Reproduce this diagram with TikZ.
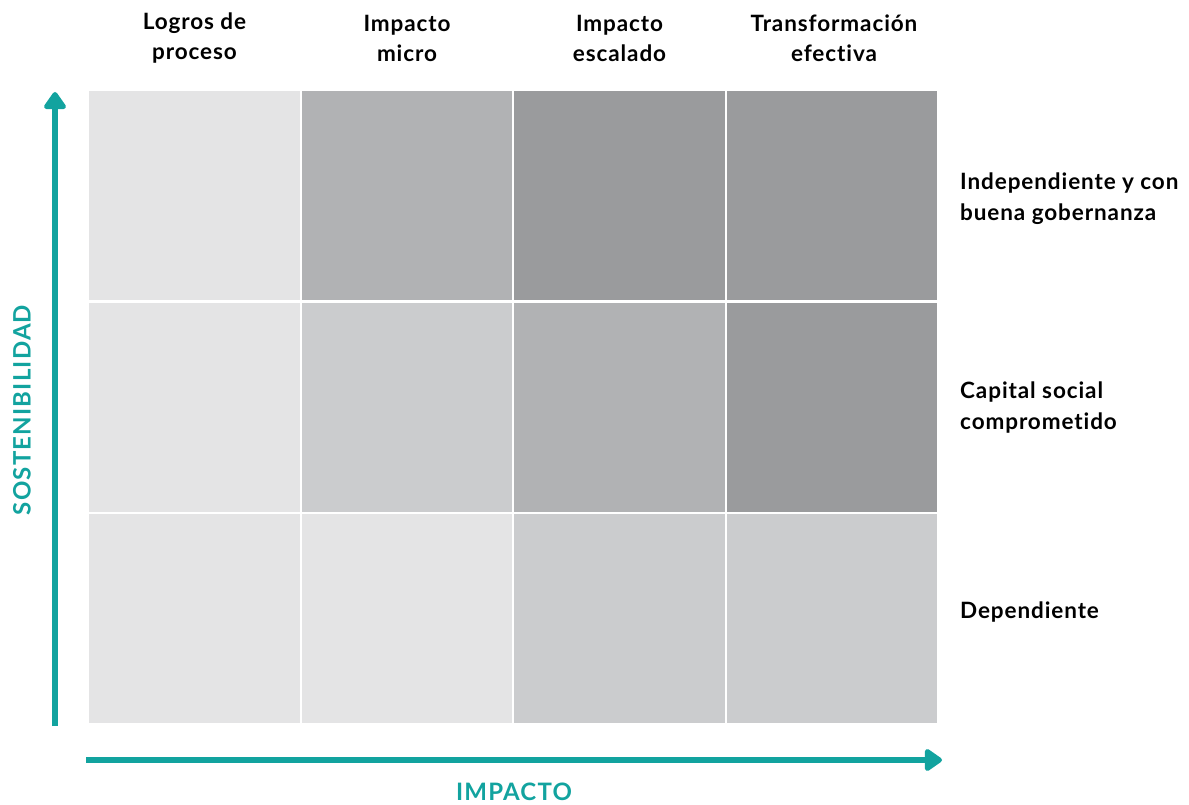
\documentclass[tikz,border=0pt]{standalone}
\usepackage{fontspec}
\setmainfont{Lato}[Ligatures={NoCommon}]
\usepackage{tikz}
\usetikzlibrary{arrows.meta}

\definecolor{tealAxis}{RGB}{18,163,159}
\definecolor{cellA}{RGB}{228,228,229}
\definecolor{cellB}{RGB}{203,204,206}
\definecolor{cellC}{RGB}{177,178,180}
\definecolor{cellD}{RGB}{154,155,157}

\begin{document}
\begin{tikzpicture}[x=1pt, y=-1pt, inner sep=0pt]
    \useasboundingbox (0,0) rectangle (1189,805);

    \tikzstyle{myCell}=[rectangle, minimum width=210.5pt, minimum height=209pt];
    \tikzstyle{myHead}=[align=center, font=\fontsize{22.5}{30}\selectfont\bfseries\addfontfeature{LetterSpace=4}];
    \tikzstyle{myRow}=[align=left, anchor=west, font=\fontsize{22.5}{31}\selectfont\bfseries\addfontfeature{LetterSpace=4}];
    \tikzstyle{myAxis}=[tealAxis, line width=6pt, -{Triangle[round, length=19pt, width=25pt]}];
    \tikzstyle{myAxisLab}=[text=tealAxis, font=\fontsize{24}{26}\selectfont\bfseries\addfontfeature{LetterSpace=5}];

    % cells, row by row (top to bottom)
    \foreach \c [count=\i] in {cellA, cellC, cellD, cellD}
        \node[myCell, fill=\c] (t\i) at (194.5+212.5*\i-212.5, 195.5) {};
    \foreach \c [count=\i] in {cellA, cellB, cellC, cellD}
        \node[myCell, fill=\c] (m\i) at (194.5+212.5*\i-212.5, 407) {};
    \foreach \c [count=\i] in {cellA, cellA, cellB, cellB}
        \node[myCell, fill=\c] (b\i) at (194.5+212.5*\i-212.5, 618) {};

    % column heads
    \node[myHead] (h1) at (194.5, 38) {Logros de\\proceso};
    \node[myHead] (h2) at (407, 38) {Impacto\\micro};
    \node[myHead] (h3) at (619.5, 38) {Impacto\\escalado};
    \node[myHead] (h4) at (834, 38) {Transformación\\efectiva};

    % row labels
    \node[myRow] (r1) at (960, 199) {Independiente y con\\buena gobernanza};
    \node[myRow] (r2) at (960, 408) {Capital social\\comprometido};
    \node[myRow] (r3) at (960, 612) {Dependiente};

    % axes
    \coordinate (ySt) at (55, 726);
    \coordinate (yEn) at (55, 92);
    \coordinate (xSt) at (86, 760);
    \coordinate (xEn) at (942, 760);
    \draw[myAxis] (ySt) -- (yEn);
    \draw[myAxis] (xSt) -- (xEn);
    \node[myAxisLab] (xlab) at (514, 792) {IMPACTO};
    \node[myAxisLab, rotate=90] (ylab) at (22, 410) {SOSTENIBILIDAD};
\end{tikzpicture}
\end{document}
